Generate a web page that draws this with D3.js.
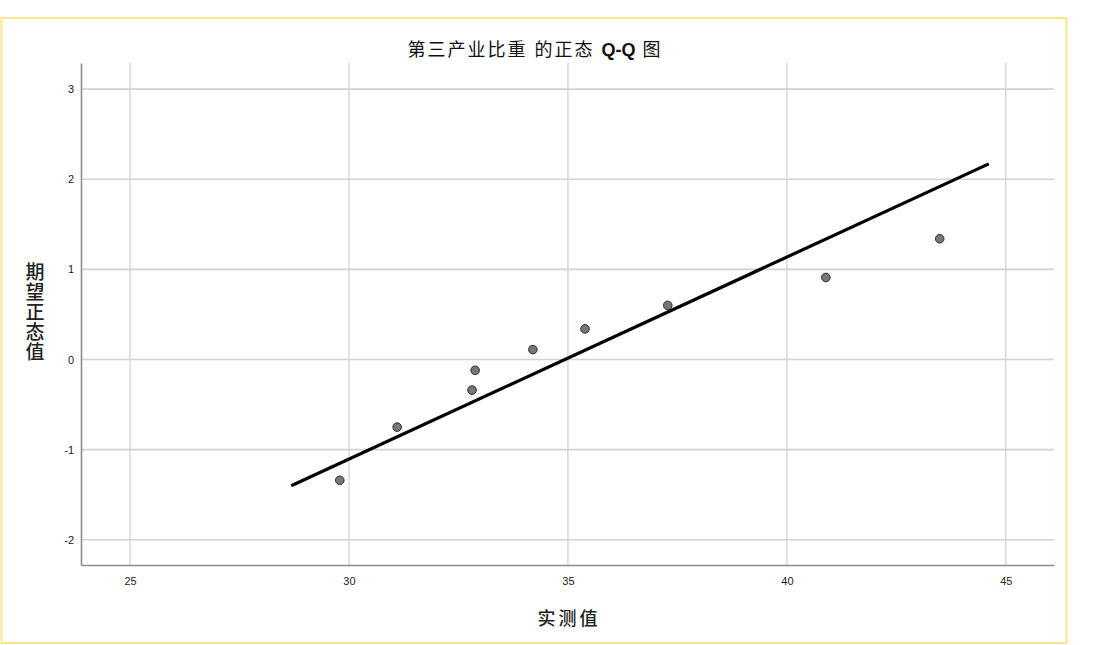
<!DOCTYPE html>
<html>
<head>
<meta charset="utf-8">
<script src="https://cdn.jsdelivr.net/npm/d3@7"></script>
<style>
  body { margin: 0; background: #fff; }
  svg { display: block; }
  text { font-family: Arial, "Liberation Sans", "Noto Sans CJK SC", sans-serif; }
</style>
</head>
<body>
<svg id="chart"></svg>
<script>
// observed values (x) and expected normal values (y)
var observed = [29.79, 31.10, 32.81, 32.88, 34.20, 35.39, 37.28, 40.89, 43.49];
var expected = [-1.34, -0.75, -0.34, -0.12, 0.11, 0.34, 0.60, 0.91, 1.34];
// reference line: mean and sd of the fitted normal, and its x span
var lineMean = 34.93;
var lineSd = 4.46;
var lineSpan = [28.68, 44.61];
var xTicks = [25, 30, 35, 40, 45];
var yTicks = [-2, -1, 0, 1, 2, 3];
var titleCn = "第三产业比重 的正态 ";
var titleQQ = "Q-Q";
var titleEnd = " 图";
var xTitle = "实测值";
var yTitle = "期望正态值";

var width = 1120, height = 645;
var plot = {left: 81, right: 1054, top: 63, bottom: 565};

var svg = d3.select("#chart")
    .attr("width", width)
    .attr("height", height);

// outer yellow frame
svg.append("rect")
    .attr("x", 1.5).attr("y", 18)
    .attr("width", 1065).attr("height", 625)
    .attr("fill", "none")
    .attr("stroke", "#fde48a")
    .attr("stroke-width", 2);

var x = d3.scaleLinear()
    .domain([23.88, 46.1])
    .range([plot.left, plot.right]);

var y = d3.scaleLinear()
    .domain([-2.28, 3.29])
    .range([plot.bottom, plot.top]);

// gridlines
svg.append("g")
    .selectAll("line")
    .data(xTicks)
    .enter().append("line")
    .attr("x1", d => x(d)).attr("x2", d => x(d))
    .attr("y1", plot.top).attr("y2", plot.bottom)
    .attr("stroke", "#cfcfcf")
    .attr("stroke-width", 1.2);

svg.append("g")
    .selectAll("line")
    .data(yTicks)
    .enter().append("line")
    .attr("x1", plot.left).attr("x2", plot.right)
    .attr("y1", d => y(d)).attr("y2", d => y(d))
    .attr("stroke", "#d2d2d2")
    .attr("stroke-width", 1.6);

// axes
var fmt = d => String(d);
var xAxis = svg.append("g")
    .attr("transform", "translate(0," + plot.bottom + ")")
    .call(d3.axisBottom(x).tickValues(xTicks).tickFormat(fmt).tickSize(0).tickPadding(12));
var yAxis = svg.append("g")
    .attr("transform", "translate(" + plot.left + ",0)")
    .call(d3.axisLeft(y).tickValues(yTicks).tickFormat(fmt).tickSize(0).tickPadding(7));

[xAxis, yAxis].forEach(function(a) {
    a.select(".domain").attr("stroke", "#8c8c8c").attr("stroke-width", 1.6);
    a.selectAll("text")
        .attr("font-size", 11)
        .attr("fill", "#222")
        .attr("font-family", "Arial, 'Liberation Sans', sans-serif");
});

// reference line
var lineData = lineSpan.map(function(v) {
    return {x: v, y: (v - lineMean) / lineSd};
});
svg.append("path")
    .datum(lineData)
    .attr("d", d3.line().x(d => x(d.x)).y(d => y(d.y)))
    .attr("fill", "none")
    .attr("stroke", "#000")
    .attr("stroke-width", 3.2);

// points
svg.append("g")
    .selectAll("circle")
    .data(observed.map((v, i) => ({x: v, y: expected[i]})))
    .enter().append("circle")
    .attr("cx", d => x(d.x))
    .attr("cy", d => y(d.y))
    .attr("r", 4.3)
    .attr("fill", "#777")
    .attr("stroke", "#2b2b2b")
    .attr("stroke-width", 1);

// titles
var t = svg.append("text")
    .attr("x", 535).attr("y", 56)
    .attr("text-anchor", "middle")
    .attr("font-size", 18)
    .attr("letter-spacing", 2)
    .attr("fill", "#111");
t.append("tspan").text(titleCn);
t.append("tspan").attr("font-weight", "bold").attr("letter-spacing", 0).text(titleQQ);
t.append("tspan").text(titleEnd);

svg.append("text")
    .attr("x", 569).attr("y", 625)
    .attr("text-anchor", "middle")
    .attr("font-size", 18)
    .attr("letter-spacing", 3)
    .attr("font-weight", 500)
    .attr("fill", "#222")
    .text(xTitle);

svg.append("g")
    .selectAll("text")
    .data(yTitle.split(""))
    .enter().append("text")
    .attr("x", 35)
    .attr("y", (d, i) => 279 + i * 20)
    .attr("text-anchor", "middle")
    .attr("font-size", 19)
    .attr("font-weight", 500)
    .attr("fill", "#222")
    .text(d => d);
</script>
</body>
</html>
